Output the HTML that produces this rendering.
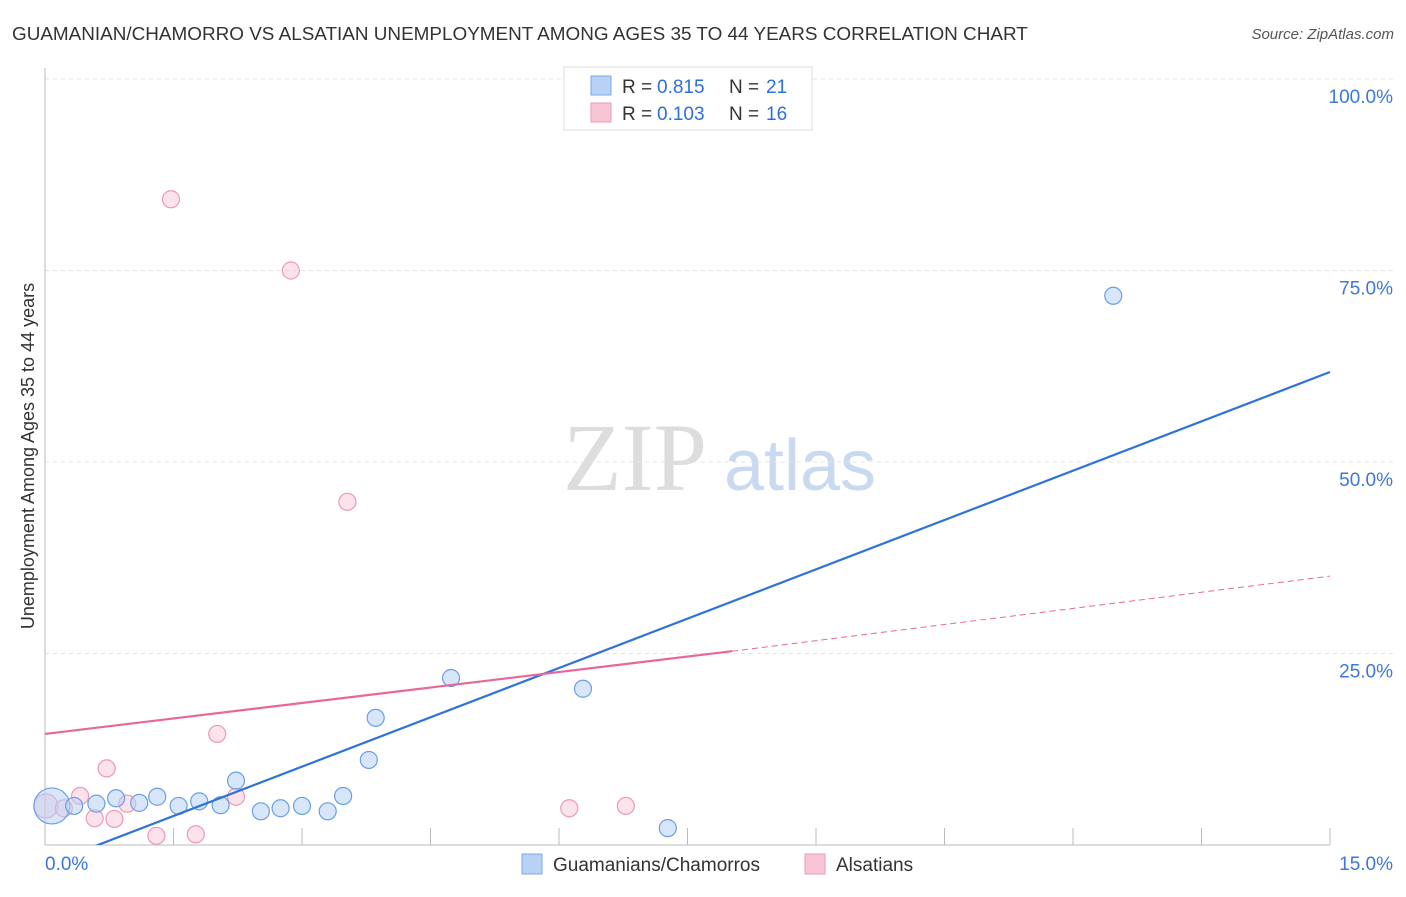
<!DOCTYPE html>
<html><head><meta charset="utf-8"><style>
body{margin:0;background:#fff;font-family:"Liberation Sans",sans-serif;}
</style></head><body>
<svg id="c" width="1406" height="892" xmlns="http://www.w3.org/2000/svg">
<defs><clipPath id="plot"><rect x="45" y="60" width="1300" height="785"/></clipPath></defs>
<text x="12" y="40" font-size="18.9" fill="#333">GUAMANIAN/CHAMORRO VS ALSATIAN UNEMPLOYMENT AMONG AGES 35 TO 44 YEARS CORRELATION CHART</text>
<text x="1394" y="39" font-size="15" fill="#555" font-style="italic" text-anchor="end">Source: ZipAtlas.com</text>
<text x="635" y="490" font-size="96" fill="#ddd" font-family="Liberation Serif" text-anchor="middle">ZIP</text>
<text x="800" y="490" font-size="72" fill="#c9d9f0" text-anchor="middle">atlas</text>
<text transform="translate(34,456) rotate(-90)" font-size="18" fill="#333" text-anchor="middle">Unemployment Among Ages 35 to 44 years</text>
<g id="grid"></g><g id="marks"></g>
<g>
<rect x="564" y="67" width="248" height="63" fill="#fff" stroke="#ddd"/>
<rect x="591" y="76" width="20" height="19" fill="#b8d2f5" stroke="#7aa8e6"/>
<rect x="591" y="103" width="20" height="19" fill="#f8c5d4" stroke="#ec9ab4"/>
<text x="622" y="93" font-size="19" fill="#333">R =</text>
<text x="657" y="93" font-size="19" fill="#2f6fd6">0.815</text>
<text x="729" y="93" font-size="19" fill="#333">N =</text>
<text x="766" y="93" font-size="19" fill="#2f6fd6">21</text>
<text x="622" y="120" font-size="19" fill="#333">R =</text>
<text x="657" y="120" font-size="19" fill="#2f6fd6">0.103</text>
<text x="729" y="120" font-size="19" fill="#333">N =</text>
<text x="766" y="120" font-size="19" fill="#2f6fd6">16</text>
</g>
<g>
<rect x="522" y="854" width="20" height="20" fill="#b8d2f5" stroke="#7aa8e6"/>
<text x="553" y="871" font-size="19" fill="#333">Guamanians/Chamorros</text>
<rect x="805" y="854" width="20" height="20" fill="#f8c5d4" stroke="#ec9ab4"/>
<text x="836" y="871" font-size="19" fill="#333">Alsatians</text>
</g>
</svg>
<script>
const yTicks=[25,50,75,100];
const yTickLabels=["25.0%","50.0%","75.0%","100.0%"];
const blueX=[0.08,0.34,0.60,0.83,1.10,1.31,1.56,1.80,2.05,2.23,2.52,2.75,3.00,3.30,3.48,3.78,3.86,4.74,6.28,7.27,12.47];
const blueY=[5.1,5.1,5.4,6.1,5.5,6.3,5.1,5.7,5.2,8.4,4.4,4.8,5.1,4.4,6.4,11.1,16.6,21.8,20.4,2.2,71.7];
const pinkX=[0.01,0.22,0.41,0.58,0.81,0.72,0.96,1.30,1.76,2.01,2.23,1.47,2.87,3.53,6.12,6.78];
const pinkY=[5.1,4.8,6.4,3.5,3.4,10.0,5.4,1.2,1.4,14.5,6.3,84.3,75.0,44.8,4.8,5.1];
const blueLine=[[0,-2.65],[15,61.75]];
const pinkLine=[[0,14.5],[8.02,25.3],[15,35.1]];
const X=v=>45+v*1285/15, Y=v=>845-v*7.66;
const NS="http://www.w3.org/2000/svg";
const grid=document.getElementById('grid'), marks=document.getElementById('marks');
function mk(p,tag,a){const e=document.createElementNS(NS,tag);for(const k in a)e.setAttribute(k,a[k]);p.appendChild(e);return e;}
yTicks.forEach((t,i)=>{
 const l=mk(grid,'line',{x1:45,x2:1394,y1:Y(t),y2:Y(t),stroke:'#e4e4e4','stroke-dasharray':'4,4'});
 
 
 const tx=mk(grid,'text',{x:1393,y:Y(t)+24,'font-size':19,fill:'#3b78d8','text-anchor':'end'});
 tx.textContent=yTickLabels[i];
 
 
});
mk(grid,'line',{x1:45,x2:45,y1:68,y2:845,stroke:'#bbb'});
mk(grid,'line',{x1:45,x2:1330,y1:845,y2:845,stroke:'#bbb'});
for(let i=1;i<=10;i++){const t=mk(grid,'line',{x1:X(i*1.5),x2:X(i*1.5),y1:828,y2:845,stroke:'#bbb'});
 
 }
const x0=mk(grid,'text',{x:45,y:870,'font-size':19,fill:'#3b78d8'});x0.textContent='0.0%';


const x1=mk(grid,'text',{x:1393,y:870,'font-size':19,fill:'#3b78d8','text-anchor':'end'});x1.textContent='15.0%';


function dot(x,y,r,f,s,n){const c=mk(marks,'circle',{cx:X(x),cy:Y(y),r:r,fill:f,stroke:s,'stroke-width':1.2});
 
 }
pinkX.forEach((x,i)=>dot(x,pinkY[i],i===0?12:8.5,'rgba(248,190,208,0.45)','#ec9ab4','alsatian-point'));
blueX.forEach((x,i)=>dot(x,blueY[i],i===0?18:8.5,'rgba(184,210,245,0.55)','#6a9fe3','guamanian-point'));
const bl=mk(marks,'line',{x1:X(blueLine[0][0]),y1:Y(blueLine[0][1]),x2:X(blueLine[1][0]),y2:Y(blueLine[1][1]),stroke:'#2f73d9','stroke-width':2.2,'clip-path':'url(#plot)'});


const pl=mk(marks,'line',{x1:X(pinkLine[0][0]),y1:Y(pinkLine[0][1]),x2:X(pinkLine[1][0]),y2:Y(pinkLine[1][1]),stroke:'#e8679a','stroke-width':2.2});


const pd=mk(marks,'line',{x1:X(pinkLine[1][0]),y1:Y(pinkLine[1][1]),x2:X(pinkLine[2][0]),y2:Y(pinkLine[2][1]),stroke:'#e8679a','stroke-width':1,'stroke-dasharray':'6,4'});


</script>
</body></html>
